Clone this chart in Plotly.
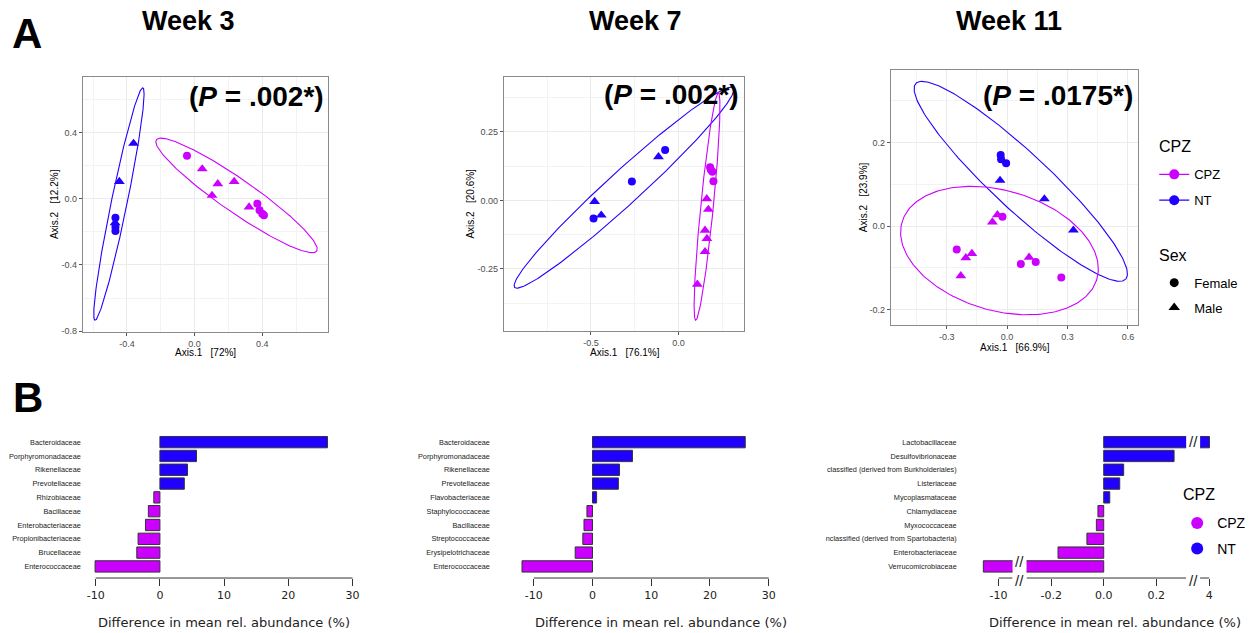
import numpy as np
import plotly.graph_objects as go

W, H = 1253, 633


def fx(p):
    return p / W


def fy(p):
    return 1 - p / H


MAGENTA = "#CC00FF"
BLUE = "#2000FF"
GROUP_COLORS = {"CPZ": MAGENTA, "NT": BLUE}
SEX_SYMBOLS = {"Female": "circle", "Male": "triangle-up"}
SEX_SIZES = {"Female": 8, "Male": 9.5}
SANS = "Liberation Sans, Arial, sans-serif"
RFONT = "DejaVu Sans, Verdana, sans-serif"

# ---------------- PCoA data (Axis.1, Axis.2) ----------------
w3_x = [-0.361, -0.445, -0.468, -0.470, -0.468, -0.468,
        -0.045, 0.045, 0.137, 0.103, 0.234, 0.322, 0.371, 0.384, 0.410, 0.400]
w3_y = [0.334, 0.104, -0.115, -0.145, -0.170, -0.195,
        0.260, 0.180, 0.090, 0.020, 0.104, -0.050, -0.030, -0.070, -0.100, -0.090]
w3_group = ["NT", "NT", "NT", "NT", "NT", "NT",
            "CPZ", "CPZ", "CPZ", "CPZ", "CPZ", "CPZ", "CPZ", "CPZ", "CPZ", "CPZ"]
w3_sex = ["Male", "Male", "Female", "Male", "Female", "Female",
          "Female", "Male", "Male", "Male", "Male", "Male", "Female", "Female", "Female", "Female"]

w7_x = [-0.076, -0.114, -0.266, -0.479, -0.441, -0.485,
        0.181, 0.194, 0.200, 0.185, 0.162, 0.171, 0.152, 0.163, 0.152, 0.108]
w7_y = [0.184, 0.159, 0.069, -0.004, -0.054, -0.066,
        0.121, 0.105, 0.070, 0.112, 0.006, -0.033, -0.109, -0.139, -0.187, -0.306]
w7_group = ["NT", "NT", "NT", "NT", "NT", "NT",
            "CPZ", "CPZ", "CPZ", "CPZ", "CPZ", "CPZ", "CPZ", "CPZ", "CPZ", "CPZ"]
w7_sex = ["Female", "Male", "Female", "Male", "Male", "Female",
          "Female", "Female", "Female", "Female", "Male", "Male", "Male", "Male", "Male", "Male"]

w11_x = [-0.032, -0.030, -0.005, -0.035, 0.185, 0.329,
         -0.048, -0.023, -0.073, -0.250, -0.205, -0.175, -0.230, 0.068, 0.109, 0.142, 0.269]
w11_y = [0.170, 0.160, 0.150, 0.109, 0.065, -0.010,
         0.027, 0.022, 0.0095, -0.056, -0.076, -0.066, -0.119, -0.091, -0.075, -0.086, -0.123]
w11_group = ["NT", "NT", "NT", "NT", "NT", "NT",
             "CPZ", "CPZ", "CPZ", "CPZ", "CPZ", "CPZ", "CPZ", "CPZ", "CPZ", "CPZ", "CPZ"]
w11_sex = ["Female", "Female", "Female", "Male", "Male", "Male",
           "Male", "Female", "Male", "Female", "Male", "Male", "Male", "Female", "Male", "Female", "Female"]

# 95% ellipses: centre (cx, cy) and two conjugate semi-axis vectors (ux, uy), (vx, vy)
w3_ell_nt = [-0.4475, -0.032, 0.1415, 0.702, 0.0459, -0.0097]
w3_ell_cpz = [0.248, 0.020, 0.474, -0.336, -0.0555, -0.0823]
w7_ell_nt = [-0.311, 0.0465, 0.6245, 0.364, 0.0643, -0.0445]
w7_ell_cpz = [0.1635, -0.0223, 0.0646, 0.4149, 0.0359, -0.0023]
w11_ell_nt = [0.0678, 0.107, 0.5207, -0.2341, -0.096, -0.0492]
w11_ell_cpz = [-0.038, -0.0587, 0.486, -0.023, -0.068, 0.152]

week_titles = ["Week 3", "Week 7", "Week 11"]
p_values = [".002*", ".002*", ".0175*"]
axis1_labels = ["Axis.1   [72%]", "Axis.1   [76.1%]", "Axis.1   [66.9%]"]
axis2_labels = ["Axis.2   [12.2%]", "Axis.2   [20.6%]", "Axis.2   [23.9%]"]

w3_xticks = [-0.4, 0.0, 0.4]
w3_yticks = [-0.8, -0.4, 0.0, 0.4]
w7_xticks = [-0.5, 0.0]
w7_yticks = [-0.25, 0.0, 0.25]
w11_xticks = [-0.3, 0.0, 0.3, 0.6]
w11_yticks = [-0.2, 0.0, 0.2]

# ---------------- Differential abundance data ----------------
b1_names = ["Bacteroidaceae", "Porphyromonadaceae", "Rikenellaceae", "Prevotellaceae",
            "Rhizobiaceae", "Bacillaceae", "Enterobacteriaceae", "Propionibacteriaceae",
            "Brucellaceae", "Enterococcaceae"]
b1_values = [26.1, 5.7, 4.3, 3.8, -0.95, -1.8, -2.25, -3.4, -3.6, -10.1]

b2_names = ["Bacteroidaceae", "Porphyromonadaceae", "Rikenellaceae", "Prevotellaceae",
            "Flavobacteriaceae", "Staphylococcaceae", "Bacillaceae", "Streptococcaceae",
            "Erysipelotrichaceae", "Enterococcaceae"]
b2_values = [26.0, 6.8, 4.6, 4.4, 0.7, -0.95, -1.45, -1.65, -2.95, -12.0]

b3_names = ["Lactobacillaceae", "Desulfovibrionaceae", "classified (derived from Burkholderiales)",
            "Listeriaceae", "Mycoplasmataceae", "Chlamydiaceae", "Myxococcaceae",
            "nclassified (derived from Spartobacteria)", "Enterobacteriaceae", "Verrucomicrobiaceae"]
b3_values = [4.03, 0.268, 0.076, 0.061, 0.023, -0.022, -0.028, -0.064, -0.174, -10.6]

b12_xticks = [-10, 0, 10, 20, 30]
b3_left_ticks = [-10]
b3_mid_ticks = [-0.2, 0.0, 0.2]
b3_right_ticks = [4]
xlabel_bars = "Difference in mean rel. abundance (%)"

fig = go.Figure()

# ---------------- PCoA panels ----------------
panels = [
    dict(x=w3_x, y=w3_y, g=w3_group, s=w3_sex, ell=[("NT", w3_ell_nt), ("CPZ", w3_ell_cpz)],
         xdom=(83, 329), ydom=(77, 334), xr=[-0.661, 0.79], yr=[-0.804, 0.738],
         xt=w3_xticks, yt=w3_yticks, xfmt="{:.1f}", yfmt="{:.1f}", xm=0.2, ym=0.2,
         xtitle=(206, 355), ytitle=(54, 205.5), ptxt=(327, 97), wt=189),
    dict(x=w7_x, y=w7_y, g=w7_group, s=w7_sex, ell=[("NT", w7_ell_nt), ("CPZ", w7_ell_cpz)],
         xdom=(505, 746), ydom=(77, 333), xr=[-0.998, 0.376], yr=[-0.476, 0.452],
         xt=w7_xticks, yt=w7_yticks, xfmt="{:.1f}", yfmt="{:.2f}", xm=0.25, ym=0.125,
         xtitle=(626, 355), ytitle=(472, 205), ptxt=(743, 95.5), wt=637),
    dict(x=w11_x, y=w11_y, g=w11_group, s=w11_sex, ell=[("NT", w11_ell_nt), ("CPZ", w11_ell_cpz)],
         xdom=(893, 1141), ydom=(70, 327), xr=[-0.577, 0.651], yr=[-0.2367, 0.3745],
         xt=w11_xticks, yt=w11_yticks, xfmt="{:.1f}", yfmt="{:.1f}", xm=0.15, ym=0.1,
         xtitle=(1017, 349.5), ytitle=(865, 198.5), ptxt=(1138, 96.5), wt=1011),
]

annotations = []
shapes = []
layout_axes = {}
t = np.linspace(0, 2 * np.pi, 241)


def text_ann(x, y, text, size, family=SANS, color="black", xanchor="center", angle=0, yref="paper", xref="paper"):
    return dict(x=x, y=y, xref=xref, yref=yref, text=text, showarrow=False, textangle=angle,
                font=dict(family=family, size=size, color=color), xanchor=xanchor, yanchor="middle")


for i, p in enumerate(panels, start=1):
    xa = "x" if i == 1 else f"x{i}"
    ya = "y" if i == 1 else f"y{i}"
    for grp, e in p["ell"]:
        cx, cy, ux, uy, vx, vy = e
        fig.add_trace(go.Scatter(
            x=cx + ux * np.cos(t) + vx * np.sin(t),
            y=cy + uy * np.cos(t) + vy * np.sin(t),
            mode="lines", line=dict(color=GROUP_COLORS[grp], width=1.1),
            xaxis=xa, yaxis=ya, showlegend=False, hoverinfo="skip"))
    for grp in ["CPZ", "NT"]:
        for sex in ["Female", "Male"]:
            idx = [k for k in range(len(p["x"])) if p["g"][k] == grp and p["s"][k] == sex]
            if not idx:
                continue
            fig.add_trace(go.Scatter(
                x=[p["x"][k] for k in idx], y=[p["y"][k] for k in idx],
                mode="markers",
                marker=dict(symbol=SEX_SYMBOLS[sex], color=GROUP_COLORS[grp],
                            size=SEX_SIZES[sex], line=dict(width=0)),
                xaxis=xa, yaxis=ya, showlegend=False))
    common = dict(showgrid=True, gridcolor="#EBEBEB", gridwidth=1, zeroline=False,
                  showline=True, mirror=True, linecolor="#8a8a8a", linewidth=1,
                  ticks="outside", ticklen=3, tickcolor="#555555", tickwidth=1,
                  tickfont=dict(family=SANS, size=9, color="#4D4D4D"))
    layout_axes["xaxis" if i == 1 else f"xaxis{i}"] = dict(
        domain=[fx(p["xdom"][0]), fx(p["xdom"][1])], range=p["xr"], anchor=ya,
        tickmode="array", tickvals=p["xt"], ticktext=[p["xfmt"].format(v) for v in p["xt"]],
        minor=dict(showgrid=True, dtick=p["xm"], tick0=0, gridcolor="#F3F3F3", gridwidth=0.6, ticks=""),
        **common)
    layout_axes["yaxis" if i == 1 else f"yaxis{i}"] = dict(
        domain=[fy(p["ydom"][1]), fy(p["ydom"][0])], range=p["yr"], anchor=xa,
        tickmode="array", tickvals=p["yt"], ticktext=[p["yfmt"].format(v) for v in p["yt"]],
        minor=dict(showgrid=True, dtick=p["ym"], tick0=0, gridcolor="#F3F3F3", gridwidth=0.6, ticks=""),
        **common)
    annotations.append(text_ann(fx(p["xtitle"][0]), fy(p["xtitle"][1]),
                                axis1_labels[i - 1].replace(" ", "\u00a0"), 10))
    annotations.append(text_ann(fx(p["ytitle"][0]), fy(p["ytitle"][1]),
                                axis2_labels[i - 1].replace(" ", "\u00a0"), 10, angle=-90))
    annotations.append(text_ann(fx(p["ptxt"][0]), fy(p["ptxt"][1]),
                                "<b>(<i>P</i> = " + p_values[i - 1] + ")</b>", 28, xanchor="right"))
    annotations.append(text_ann(fx(p["wt"]), fy(21.5), "<b>" + week_titles[i - 1] + "</b>", 27))

# ---------------- Bar charts ----------------
BAR_YDOM = [fy(581.7), fy(438)]
BAR_YR = [-0.84, 9.5]
bar_line = dict(color="#333333", width=1)
bar_charts = [
    dict(names=b1_names, vals=b1_values, segs=[(4, (85, 363), [-11.7, 31.5], b12_xticks, ["-10", "0", "10", "20", "30"])],
         title_x=225),
    dict(names=b2_names, vals=b2_values, segs=[(5, (495, 780), [-16.8, 31.6], b12_xticks, ["-10", "0", "10", "20", "30"])],
         title_x=663),
    dict(names=b3_names, vals=b3_values,
         segs=[(6, (963, 1015), [-11.49, -9.45], b3_left_ticks, ["-10"]),
               (7, (1029, 1189), [-0.294, 0.314], b3_mid_ticks, ["-0.2", "0.0", "0.2"]),
               (8, (1203, 1213), [3.0, 4.1], b3_right_ticks, ["4"])],
         title_x=1118),
]

for bc in bar_charts:
    n = len(bc["names"])
    pos = [n - 1 - k for k in range(n)]
    colors = [BLUE if v > 0 else MAGENTA for v in bc["vals"]]
    yid = bc["segs"][0][0]
    for (xid, dom, xr, tv, tt) in bc["segs"]:
        fig.add_trace(go.Bar(x=bc["vals"], y=pos, orientation="h", width=0.82,
                             marker=dict(color=colors, line=bar_line),
                             xaxis=f"x{xid}", yaxis=f"y{yid}", showlegend=False))
        layout_axes[f"xaxis{xid}"] = dict(
            domain=[fx(dom[0]), fx(dom[1])], range=xr, anchor=f"y{yid}",
            tickmode="array", tickvals=tv, ticktext=tt, ticks="outside", ticklen=7,
            tickcolor="#333333", tickwidth=1, showline=False, showgrid=False, zeroline=False,
            tickfont=dict(family=RFONT, size=11, color="#222222"))
        if len(bc["segs"]) == 1:
            x0, x1 = min(tv), max(tv)
        elif xid == bc["segs"][0][0]:
            x0, x1 = min(tv), xr[1]
        elif xid == bc["segs"][-1][0]:
            x0, x1 = xr[0], max(tv)
        else:
            x0, x1 = xr[0], xr[1]
        shapes.append(dict(type="line", xref=f"x{xid}", yref=f"y{yid} domain",
                           x0=x0, x1=x1, y0=0, y1=0, line=dict(color="#333333", width=1)))
    layout_axes[f"yaxis{yid}"] = dict(
        domain=BAR_YDOM, range=BAR_YR, anchor=f"x{yid}",
        tickmode="array", tickvals=pos, ticktext=bc["names"], ticks="",
        showline=False, showgrid=False, zeroline=False, ticklabelstandoff=3,
        tickfont=dict(family=SANS, size=7.3, color="#222222"))
    annotations.append(text_ann(fx(bc["title_x"]), fy(626), xlabel_bars, 13, family=RFONT, color="#222222"))

# axis-break marks for the third bar chart
segs3 = bar_charts[2]["segs"]
gap_left = (fx(segs3[0][1][1]) + fx(segs3[1][1][0])) / 2
gap_right = (fx(segs3[1][1][1]) + fx(segs3[2][1][0])) / 2
annotations.append(text_ann(gap_left, fy(565.5), "//", 15, color="#222222"))
annotations.append(text_ann(gap_right, fy(444), "//", 15, color="#222222"))
annotations.append(text_ann(gap_left, fy(584.5), "//", 15, color="#222222"))
annotations.append(text_ann(gap_right, fy(584.5), "//", 15, color="#222222"))

# panel letters
annotations.append(text_ann(fx(10), fy(33.5), "<b>A</b>", 42, xanchor="left"))
annotations.append(text_ann(fx(11), fy(400), "<b>B</b>", 42, xanchor="left"))

# legend titles
annotations.append(text_ann(fx(1160), fy(147.5), "CPZ", 16, xanchor="left"))
annotations.append(text_ann(fx(1160), fy(257), "Sex", 16, xanchor="left"))
annotations.append(text_ann(fx(1184), fy(497.5), "CPZ", 16, xanchor="left"))

# ---------------- Legends (one entry per legend for exact spacing) ----------------
legend_entries = [
    ("legend", "CPZ", "lines+markers", MAGENTA, "circle", 10, 1157, 175.5),
    ("legend3", "NT", "lines+markers", BLUE, "circle", 10, 1157, 201.5),
    ("legend4", "Female", "markers", "black", "circle", 9, 1157, 284.5),
    ("legend5", "Male", "markers", "black", "triangle-up", 10, 1157, 309.5),
    ("legend2", "CPZ", "markers", MAGENTA, "circle", 12, 1180, 526.7),
    ("legend6", "NT", "markers", BLUE, "circle", 12, 1180, 552.3),
]
legend_layout = {}
for lg, name, mode, col, sym, size, lx, ly in legend_entries:
    fig.add_trace(go.Scatter(x=[None], y=[None], mode=mode, name=name,
                             marker=dict(color=col, size=size, symbol=sym),
                             line=dict(color=col, width=1.2), legend=lg,
                             xaxis="x6", yaxis="y6"))
    legend_layout[lg] = dict(x=fx(lx), y=fy(ly), xanchor="left", yanchor="middle",
                             bgcolor="rgba(0,0,0,0)", itemwidth=30,
                             font=dict(family=SANS, size=14 if lg in ("legend2", "legend6") else 13,
                                       color="black"))

fig.update_layout(
    width=W, height=H, autosize=False,
    margin=dict(l=0, r=0, t=0, b=0),
    paper_bgcolor="white", plot_bgcolor="white",
    hovermode=False,
    annotations=annotations, shapes=shapes,
    **legend_layout,
    **layout_axes,
)

fig.write_html("out.html", config={"displayModeBar": False},
               post_script="document.body.style.margin='0px';")
